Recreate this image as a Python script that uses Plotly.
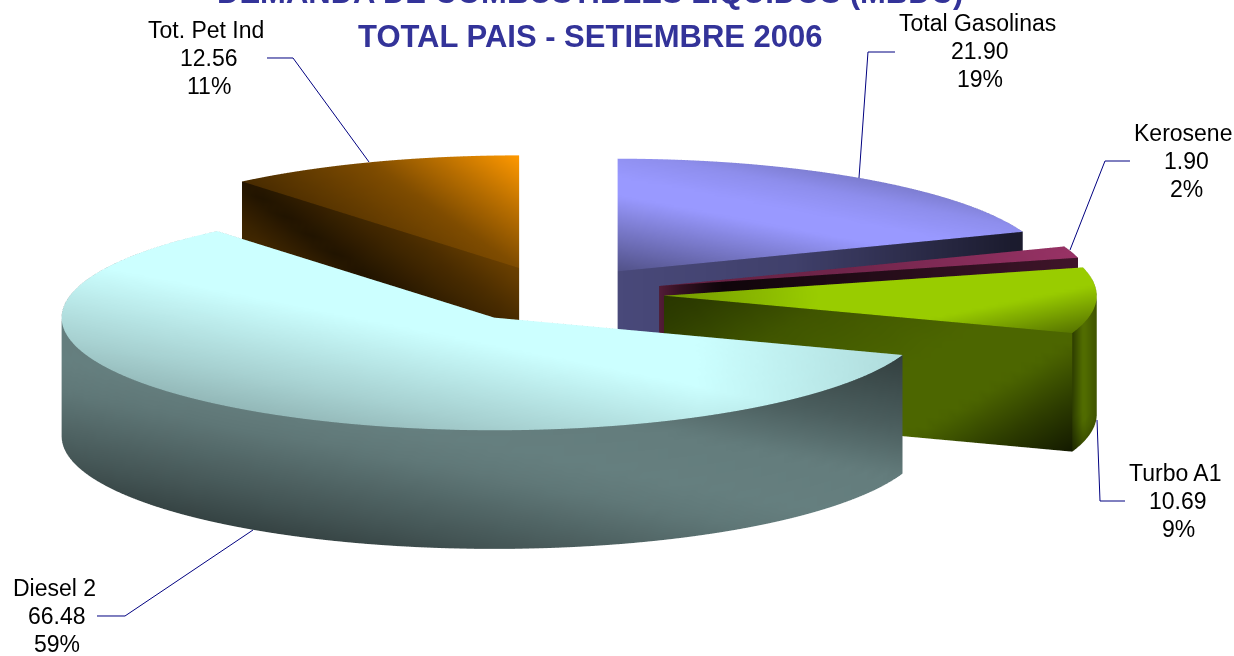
import numpy as np
import plotly.graph_objects as go

categories = ["Total Gasolinas", "Kerosene", "Turbo A1", "Diesel 2", "Tot. Pet Ind"]
values = [21.90, 1.90, 10.69, 66.48, 12.56]
percents = ["19%", "2%", "9%", "59%", "11%"]
base_colors = ["#9999FF", "#993366", "#99CC00", "#CCFFFF", "#FF9900"]
title_lines = ["DEMANDA DE COMBUSTIBLES LIQUIDOS (MBDC)", "TOTAL PAIS - SETIEMBRE 2006"]

W, H = 1234, 656
CX, CY = 556.0, 294.5   # screen centre of the pie's top plane
RX, RY = 434.0, 113.0   # screen radii
HP = 119.0              # screen height of the wall
EXPLODE = 0.25
ELEV = np.arcsin(RY / RX)
THICK = HP / (RX * np.cos(ELEV))
EYE = 10.0
ZOOM = 3.82


def g(ax, ay, dx, dy, ds, fs):
    n = np.hypot(dx, dy)
    return (ax, ay, dx / n, dy / n, ds, fs)


# shading of each visible face: lists of linear gradients (screen space), multiplied
N1 = (-0.196, 0.98)
shade = {
    0: {"top": [g(616, 175, -0.187, 0.982, [-50, -25, 0, 20, 100], [.78, .93, 1, 1, .5])],
        "a1": [g(616, 270, 1, 0, [0, 180, 400], [.48, .42, .18])]},
    1: {"top": [g(660, 280, 1, 0, [0, 200, 420], [.65, .75, 1.0])],
        "a1": [g(660, 280, 1, 0, [0, 20, 60, 150, 420], [.55, .35, .1, .18, .42])]},
    2: {"top": [g(1000, 300, .2, .98, [0, 5, 50], [1, 1, .55]), g(665, 296, 1, 0, [0, 150], [.75, 1])],
        "a1": [g(665, 296, .5, .87, [0, 25, 88, 180, 245, 292, 339], [.27, .3, .42, .5, .5, .3, .13])],
        "rim": [g(1073, 300, 1, 0, [0, 3, 12, 25], [.28, .35, .55, .42]), g(1073, 420, 0, 1, [0, 40], [1, .55])]},
    3: {"top": [g(647, 377, *N1, [0, 77, 113, 140], [1, .82, .72, .62]), g(700, 300, 1, 0, [0, 205], [1, .86])],
        "rim": [g(480, 445, *N1, [-170, -100, -50, 0, 30, 100, 130], [.25, .37, .49, .5, .47, .33, .26])]},
    4: {"top": [g(518, 155, -.57, .82, [0, 50, 92, 180], [1, .72, .5, .28])],
        "a0": [g(320, 240, .6, -.8, [-38, -2, 36, 56, 94], [.25, .13, .24, .29, .42])]},
}

label_pos = [(977, 51), (1183, 161), (1175, 501), (54, 616), (206, 58)]
leaders = [
    [(859, 178), (868, 52), (895, 52)],
    [(1070, 250), (1105, 161), (1130, 161)],
    [(1097, 420), (1100, 501), (1125, 501)],
    [(253, 530), (125, 616), (97, 616)],
    [(369, 162), (293, 58), (267, 58)],
]


def rgb(c):
    return np.array([int(c[i:i + 2], 16) for i in (1, 3, 5)], float)


X, Y, Z, I, J, K, C = [], [], [], [], [], [], []


def add_grid(px, py, pz, base, grads):
    """px.. are 2-D arrays of world coordinates of a face."""
    sx = CX + RX * px
    sy = CY - RY * py - HP * (pz / THICK)
    f = np.ones_like(sx)
    for ax, ay, dx, dy, ds, fs in grads:
        f = f * np.interp((sx - ax) * dx + (sy - ay) * dy, ds, fs)
    cols = np.clip(f[..., None] * base, 0, 255).astype(int)
    n0 = len(X)
    nr, nc = px.shape
    X.extend(px.ravel()); Y.extend(py.ravel()); Z.extend(pz.ravel())
    C.extend(f"rgb({r},{gg},{b})" for r, gg, b in cols.reshape(-1, 3))
    for a in range(nr - 1):
        for b in range(nc - 1):
            p, q, r, s = n0 + a * nc + b, n0 + a * nc + b + 1, n0 + (a + 1) * nc + b + 1, n0 + (a + 1) * nc + b
            I.extend([p, p]); J.extend([q, r]); K.extend([r, s])


total = sum(values)
start = 0.0
for idx, (v, col) in enumerate(zip(values, base_colors)):
    a0, a1 = start, start + v / total * 2 * np.pi
    start = a1
    mid = (a0 + a1) / 2
    ox, oy = EXPLODE * np.sin(mid), EXPLODE * np.cos(mid)
    base = rgb(col)
    s = shade[idx]
    th = np.linspace(a0, a1, max(3, int((a1 - a0) * 40)))
    rr = np.linspace(0, 1, 40)
    # top
    T, R = np.meshgrid(th, rr)
    add_grid(ox + R * np.sin(T), oy + R * np.cos(T), np.zeros_like(T), base, s["top"])
    # outer wall
    zz = np.linspace(0, -THICK, 12)
    T, ZZ = np.meshgrid(th, zz)
    add_grid(ox + np.sin(T), oy + np.cos(T), ZZ, base, s.get("rim", [g(0, 0, 1, 0, [0, 1], [.3, .3])]))
    # cut faces
    for key, t in (("a0", a0), ("a1", a1)):
        R, ZZ = np.meshgrid(rr, zz)
        add_grid(ox + R * np.sin(t), oy + R * np.cos(t), ZZ, base, s.get(key, [g(0, 0, 1, 0, [0, 1], [.3, .3])]))

fig = go.Figure(go.Mesh3d(
    x=X, y=Y, z=Z, i=I, j=J, k=K, vertexcolor=C, flatshading=False,
    lighting=dict(ambient=1, diffuse=0, specular=0, roughness=1, fresnel=0),
    hoverinfo="skip", showscale=False))

ax = dict(visible=False, range=[-1.3, 1.3], autorange=False)
LINE_GAP = 28
annotations = []
for (cat, val, pct, (lx, ly)) in zip(categories, values, percents, label_pos):
    for k, txt in enumerate((cat, f"{val:.2f}", pct)):
        annotations.append(dict(
            text=txt, x=lx / W, y=1 - (ly + (k - 1) * LINE_GAP) / H, xref="paper", yref="paper",
            xanchor="center", yanchor="middle", showarrow=False, align="center",
            xshift=0 if k == 0 else 3,
            font=dict(family="Liberation Sans", size=23, color="black")))
for line, ly in zip(title_lines, (-7, 36)):
    annotations.append(dict(
        text=f"<b>{line}</b>", x=590 / W, y=1 - ly / H, xref="paper", yref="paper",
        xanchor="center", yanchor="middle", showarrow=False,
        font=dict(family="Liberation Sans", size=31, color="#333399")))

shapes = []
for pts in leaders:
    path = "M " + " L ".join(f"{x / W:.5f},{1 - y / H:.5f}" for x, y in pts)
    shapes.append(dict(type="path", path=path, xref="paper", yref="paper",
                       line=dict(color="#000080", width=1)))

fig.update_layout(
    width=W, height=H, margin=dict(l=0, r=0, t=0, b=0), paper_bgcolor="white", showlegend=False,
    annotations=annotations, shapes=shapes,
    scene=dict(
        xaxis=ax, yaxis=ax, zaxis=ax, aspectmode="manual", aspectratio=dict(x=ZOOM, y=ZOOM, z=ZOOM),
        domain=dict(x=[0, 2 * CX / W], y=[1 - 2 * CY / H, 1]),
        camera=dict(projection=dict(type="orthographic"),
                    eye=dict(x=0, y=-EYE * np.cos(ELEV), z=EYE * np.sin(ELEV)),
                    center=dict(x=0, y=0, z=0), up=dict(x=0, y=0, z=1))))
fig.write_html("out.html", config=dict(displayModeBar=False),
               post_script="document.body.style.margin='0';document.body.style.overflow='hidden';")
